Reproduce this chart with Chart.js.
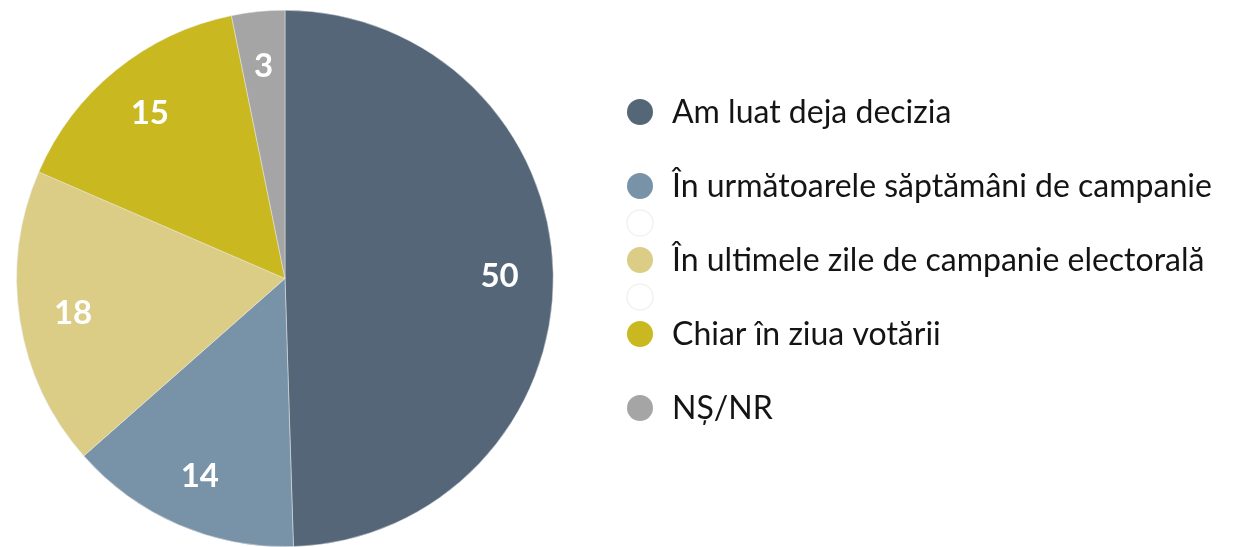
<!DOCTYPE html>
<html>
<head>
<meta charset="utf-8">
<script src="https://cdn.jsdelivr.net/npm/chart.js@4.4.1/dist/chart.umd.min.js"></script>
<style>
  html, body { margin: 0; padding: 0; background: #ffffff; }
  #wrap { position: relative; width: 1233px; height: 547px; }
</style>
</head>
<body>
<div id="wrap"><canvas id="c" width="1233" height="547"></canvas></div>
<script>
// ---- data ----
const categories = [
  "Am luat deja decizia",
  "În următoarele săptămâni de campanie",
  "În ultimele zile de campanie electorală",
  "Chiar în ziua votării",
  "NȘ/NR"
];
const sliceShares = [49.5, 14.0, 18.0, 15.3, 3.2];
// numbers printed on the slices
const sliceLabels = ["50", "14", "18", "15", "3"];
const sliceColors = ["#546678", "#7892a8", "#dbcd86", "#cab820", "#a5a5a5"];
// legend rows: index into categories, or "gap" (invisible) / "blank" (faint empty circle)
const legendRows = [0, "gap", 1, "blank", 2, "blank", 3, "gap", 4];

const sliceLabelPlugin = {
  id: "sliceLabels",
  afterDatasetsDraw(chart) {
    const ctx = chart.ctx;
    const meta = chart.getDatasetMeta(0);
    ctx.save();
    ctx.fillStyle = "#ffffff";
    ctx.font = "bold 33px Lato, 'Open Sans', sans-serif";
    ctx.textAlign = "center";
    ctx.textBaseline = "middle";
    meta.data.forEach((arc, i) => {
      const p = arc.getProps(["x", "y", "startAngle", "endAngle", "outerRadius"], true);
      const mid = (p.startAngle + p.endAngle) / 2;
      const r = p.outerRadius * 0.8;
      ctx.fillText(sliceLabels[i], p.x + Math.cos(mid) * r, p.y + Math.sin(mid) * r + 1);
    });
    ctx.restore();
  }
};

const legendPlugin = {
  id: "sideLegend",
  afterDraw(chart) {
    const ctx = chart.ctx;
    const x0 = 640, y0 = 112, step = 37.0, rad = 13;
    ctx.save();
    ctx.font = "32px Lato, 'Open Sans', sans-serif";
    ctx.textBaseline = "middle";
    ctx.textAlign = "left";
    legendRows.forEach((row, k) => {
      const y = y0 + k * step;
      if (row === "gap") return;
      ctx.beginPath();
      ctx.arc(x0, y, rad, 0, Math.PI * 2);
      if (row === "blank") {
        ctx.fillStyle = "#ffffff";
        ctx.fill();
        ctx.strokeStyle = "#f2f2f2";
        ctx.lineWidth = 1.5;
        ctx.stroke();
        return;
      }
      ctx.fillStyle = sliceColors[row];
      ctx.fill();
      ctx.fillStyle = "#141414";
      ctx.fillText(categories[row], 672, y + 1);
    });
    ctx.restore();
  }
};

new Chart(document.getElementById("c"), {
  type: "pie",
  data: {
    labels: categories,
    datasets: [{
      data: sliceShares,
      backgroundColor: sliceColors,
      borderWidth: 0.5,
      borderColor: "#e8e8e8"
    }]
  },
  options: {
    responsive: false,
    animation: false,
    layout: { padding: { top: 10, bottom: 0, left: 16, right: 679 } },
    plugins: {
      legend: { display: false },
      tooltip: { enabled: false }
    }
  },
  plugins: [sliceLabelPlugin, legendPlugin]
});
</script>
</body>
</html>
